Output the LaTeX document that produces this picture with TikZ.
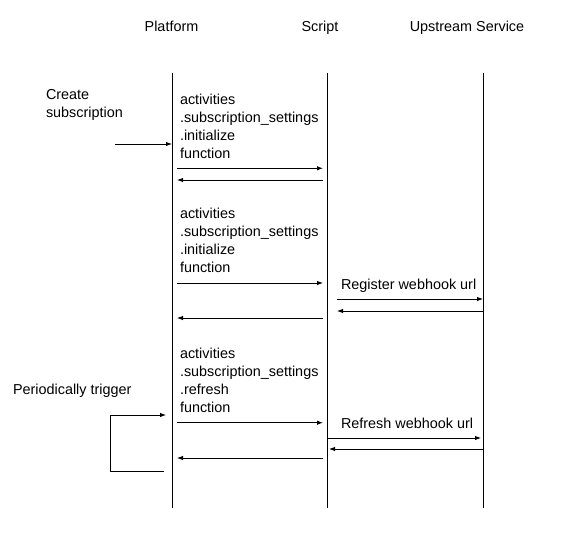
\documentclass[tikz,border=0pt]{standalone}
\usepackage{fontspec}
\setmainfont{Liberation Sans}
\usetikzlibrary{arrows.meta}
\begin{document}
\begin{tikzpicture}[x=1pt,y=-1pt,
  lifeline/.style={line width=1pt, draw=black},
  msg/.style={line width=0.9pt, draw=black, -{Latex[length=6pt,width=4.5pt]}},
  lbl/.style={inner sep=0pt, outer sep=0pt, anchor=base west, align=left, font=\fontsize{14.4}{18}\selectfont},
  hdr/.style={inner sep=0pt, outer sep=0pt, anchor=base, font=\fontsize{14.4}{18}\selectfont}]
\useasboundingbox[fill=white] (0,0) rectangle (576,536);

% headers
\node[hdr] (hP) at (171.5,31) {Platform};
\node[hdr] (hS) at (320,31) {Script};
\node[hdr] (hU) at (467,31) {Upstream Service};

% lifelines
\coordinate (Ptop) at (172,73); \coordinate (Pbot) at (172,508);
\coordinate (Stop) at (327,73); \coordinate (Sbot) at (327,508);
\coordinate (Utop) at (483,73); \coordinate (Ubot) at (483,508);
\draw[lifeline] (Ptop) -- (Pbot);
\draw[lifeline] (Stop) -- (Sbot);
\draw[lifeline] (Utop) -- (Ubot);

% labels (base anchor = baseline of the last line)
\node[lbl] (create) at (46,117.5) {Create\\subscription};
\node[lbl] (blk1) at (180,158.5) {activities\\.subscription\_settings\\.initialize\\function};
\node[lbl] (blk2) at (180,272.5) {activities\\.subscription\_settings\\.initialize\\function};
\node[lbl] (blk3) at (180,412.3) {activities\\.subscription\_settings\\.refresh\\function};
\node[lbl] (reg) at (341,289) {Register webhook url};
\node[lbl] (refr) at (341,428.5) {Refresh webhook url};
\node[lbl] (peri) at (13,394.5) {Periodically trigger};

% block 1
\coordinate (c0) at (115,144); \coordinate (c1) at (172,144);
\draw[msg] (c0) -- (c1);
\coordinate (a1) at (177,168.3); \coordinate (a2) at (323,168.3);
\draw[msg] (a1) -- (a2);
\coordinate (b1) at (323,180); \coordinate (b2) at (177,180);
\draw[msg] (b1) -- (b2);

% block 2
\coordinate (d1) at (177,283); \coordinate (d2) at (323,283);
\draw[msg] (d1) -- (d2);
\coordinate (e1) at (337,299); \coordinate (e2) at (483,299);
\draw[msg] (e1) -- (e2);
\coordinate (f1) at (483,311); \coordinate (f2) at (337,311);
\draw[msg] (f1) -- (f2);
\coordinate (g1) at (323,318); \coordinate (g2) at (177,318);
\draw[msg] (g1) -- (g2);

% block 3
\coordinate (l0) at (164,471); \coordinate (l1) at (110,471);
\coordinate (l2) at (110,415); \coordinate (l3) at (166,415);
\draw[msg] (l0) -- (l1) -- (l2) -- (l3);
\coordinate (h1) at (177,422.7); \coordinate (h2) at (323,422.7);
\draw[msg] (h1) -- (h2);
\coordinate (i1) at (328,438); \coordinate (i2) at (481,438);
\draw[msg] (i1) -- (i2);
\coordinate (j1) at (483,449); \coordinate (j2) at (329,449);
\draw[msg] (j1) -- (j2);
\coordinate (k1) at (323,458); \coordinate (k2) at (177,458);
\draw[msg] (k1) -- (k2);
\end{tikzpicture}
\end{document}
